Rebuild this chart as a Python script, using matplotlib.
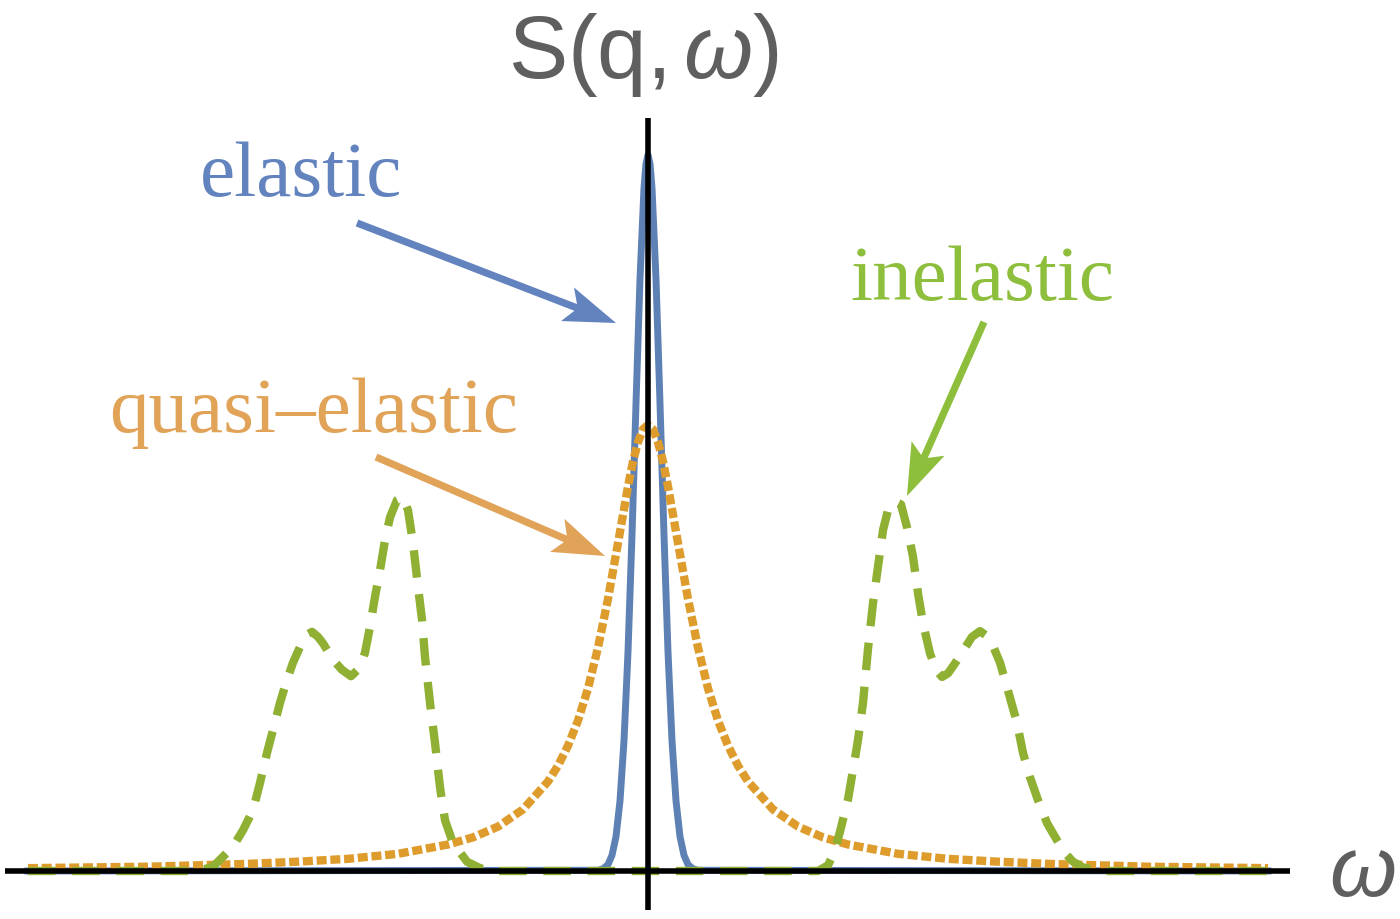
import numpy as np
import matplotlib.pyplot as plt
from matplotlib.transforms import Affine2D
from matplotlib.patches import Polygon

plt.rcParams['font.family'] = ['Liberation Sans', 'DejaVu Sans']
plt.rcParams['mathtext.fontset'] = 'custom'
plt.rcParams['mathtext.rm'] = 'Liberation Sans'
plt.rcParams['mathtext.it'] = 'Liberation Sans:italic'

# --- data (omega in arb. units, S normalised to elastic peak) ---
el_w = [-6.2, -0.50, -0.45, -0.40, -0.36, -0.32, -0.28, -0.24, -0.20, -0.16, -0.12, -0.08,
        -0.04, -0.02, 0.0, 0.02, 0.04, 0.08, 0.12, 0.16, 0.20, 0.24, 0.28, 0.32, 0.36,
        0.40, 0.45, 0.50, 6.2]
el_s = [0.0, 0.001, 0.003, 0.009, 0.022, 0.048, 0.098, 0.182, 0.306, 0.469, 0.653, 0.827,
        0.954, 0.988, 1.0, 0.988, 0.954, 0.827, 0.653, 0.469, 0.306, 0.182, 0.098, 0.048,
        0.022, 0.009, 0.003, 0.001, 0.0]

qe_w = [-6.2, -5.0, -4.0, -3.5, -3.0, -2.5, -2.0, -1.75, -1.5, -1.25, -1.0, -0.9, -0.8,
        -0.7, -0.6, -0.5, -0.4, -0.3, -0.2, -0.15, -0.1, -0.05, 0.0, 0.05, 0.1, 0.15, 0.2,
        0.3, 0.4, 0.5, 0.6, 0.7, 0.8, 0.9, 1.0, 1.25, 1.5, 1.75, 2.0, 2.5, 3.0, 3.5, 4.0,
        5.0, 6.2]
qe_s = [0.004, 0.006, 0.010, 0.013, 0.017, 0.024, 0.037, 0.047, 0.062, 0.086, 0.125, 0.147,
        0.175, 0.210, 0.255, 0.312, 0.380, 0.458, 0.537, 0.572, 0.599, 0.617, 0.623, 0.617,
        0.599, 0.572, 0.537, 0.458, 0.380, 0.312, 0.255, 0.210, 0.175, 0.147, 0.125, 0.086,
        0.062, 0.047, 0.037, 0.024, 0.017, 0.013, 0.010, 0.006, 0.004]

in_w = [-6.2, -4.50, -4.35, -4.25, -4.15, -4.05, -3.95, -3.88, -3.81, -3.75, -3.68, -3.61,
        -3.55, -3.48, -3.41, -3.36, -3.30, -3.25, -3.15, -3.06, -2.97, -2.88, -2.83, -2.78,
        -2.73, -2.68, -2.63, -2.58, -2.51, -2.45, -2.40, -2.35, -2.30, -2.26, -2.23, -2.18,
        -2.13, -2.08, -2.03, -1.95, -1.81, -1.68, -1.55,
        1.70, 1.80, 1.86, 1.92, 2.00, 2.05, 2.10, 2.15, 2.20, 2.25, 2.30, 2.35, 2.40, 2.47,
        2.53, 2.59, 2.65, 2.70, 2.75, 2.82, 2.88, 2.94, 3.00, 3.07, 3.14, 3.24, 3.32, 3.40,
        3.46, 3.52, 3.59, 3.69, 3.75, 3.82, 3.90, 3.99, 4.09, 4.17, 4.25, 4.35, 4.50, 6.2]
in_s = [0.0, 0.0, 0.006, 0.020, 0.034, 0.057, 0.085, 0.123, 0.165, 0.197, 0.235, 0.267,
        0.291, 0.313, 0.330, 0.334, 0.327, 0.318, 0.295, 0.281, 0.272, 0.284, 0.305, 0.341,
        0.383, 0.420, 0.462, 0.494, 0.518, 0.522, 0.504, 0.458, 0.397, 0.351, 0.299, 0.235,
        0.179, 0.117, 0.071, 0.039, 0.013, 0.004, 0.0,
        0.0, 0.008, 0.025, 0.055, 0.100, 0.141, 0.183, 0.235, 0.310, 0.374, 0.425, 0.476,
        0.504, 0.516, 0.512, 0.480, 0.439, 0.388, 0.346, 0.304, 0.281, 0.271, 0.276, 0.290,
        0.305, 0.327, 0.335, 0.327, 0.311, 0.291, 0.257, 0.207, 0.165, 0.131, 0.099, 0.067,
        0.043, 0.025, 0.013, 0.005, 0.0, 0.0]

labels = ['elastic', 'quasi\u2013elastic', 'inelastic']

c_el = '#5E81B5'
c_qe = '#DE9C2C'
c_in = '#8FB032'
t_el = '#6283BE'
t_qe = '#E0A358'
t_in = '#8DBE3C'

W, H = 1400, 919
fig = plt.figure(figsize=(14, 9.19), dpi=100)
ax = fig.add_axes([0, 0, 1, 1])
ax.set_xlim(-6.48, 7.52)
ax.set_ylim(-48 / 716, 871 / 716)
ax.axis('off')

# pixel transform for annotations (origin top-left)
px = Affine2D().scale(1 / W, -1 / H).translate(0, 1) + fig.transFigure

ax.plot(el_w, el_s, color=c_el, lw=5, solid_joinstyle='round', zorder=2)
ax.plot(qe_w, qe_s, color=c_qe, lw=6, linestyle=(0, (1.2, 0.45)), zorder=3)
ax.plot(in_w, in_s, color=c_in, lw=6, linestyle=(0, (3.3, 2.0)), zorder=4)

# axes
ax.plot([-6.43, 6.42], [0, 0], color='black', lw=4, solid_capstyle='butt', zorder=5)
ax.plot([0, 0], [-0.0545, 1.0517], color='black', lw=4, solid_capstyle='butt', zorder=5)


def arrow(tail, tip, color, L=52, Wd=18, N=11, lw=5.2):
    t = np.array(tail, float)
    p = np.array(tip, float)
    d = (p - t) / np.hypot(*(p - t))
    n = np.array([-d[1], d[0]])
    back = p - (L - N) * d
    ax.plot([t[0], back[0]], [t[1], back[1]], color=color, lw=lw,
            solid_capstyle='butt', transform=px, zorder=6)
    head = [p, p - L * d + Wd * n, back, p - L * d - Wd * n]
    ax.add_patch(Polygon(head, closed=True, facecolor=color, edgecolor='none',
                         transform=px, zorder=6))


serif = ['Liberation Serif', 'DejaVu Serif']
ax.text(301, 196, labels[0], transform=px, color=t_el, fontsize=57, family=serif,
        ha='center', va='baseline')
ax.text(314, 432, labels[1], transform=px, color=t_qe, fontsize=57, family=serif,
        ha='center', va='baseline')
ax.text(982, 300, labels[2], transform=px, color=t_in, fontsize=57, family=serif,
        ha='center', va='baseline')

arrow((357, 223), (616, 323), t_el)
arrow((376, 457), (605, 556), t_qe)
arrow((984, 322), (907, 496), t_in)

ax.text(643, 78, r'S(q,$\,\omega$)', transform=px, color='#5f5f5f', fontsize=64,
        ha='center', va='baseline')
ax.text(1362, 874, r'$\omega$', transform=px, color='#5f5f5f', fontsize=62,
        ha='center', va='center')

fig.savefig('out.png', dpi=100)
